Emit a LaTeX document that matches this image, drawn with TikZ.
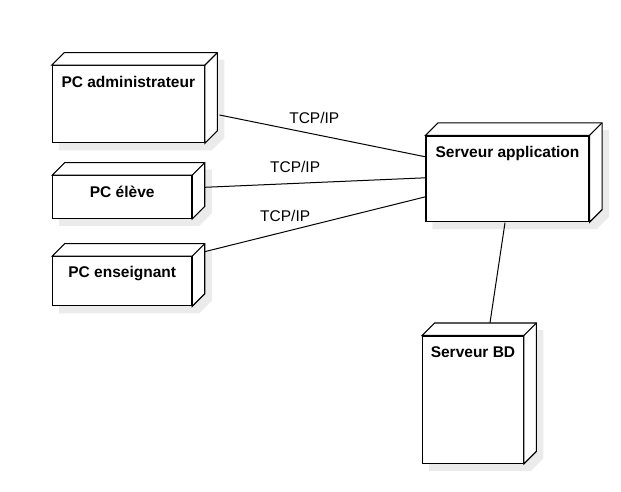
\documentclass[tikz,border=0pt]{standalone}
\usepackage{fontspec}
\setmainfont{Liberation Sans}
\usetikzlibrary{backgrounds}

\tikzset{
  box3d/.style={draw, line width=1.1pt, fill=white, rectangle, inner sep=0pt},
  face3d/.style={draw, line width=1.1pt, fill=white, line join=miter},
  shade3d/.style={fill=black!8, draw=none},
  boxtxt/.style={font=\fontsize{15.5}{18}\selectfont\bfseries, inner sep=0pt},
  lbl/.style={font=\fontsize{15.5}{18}\selectfont, inner sep=0pt},
  link/.style={line width=1pt},
}

\begin{document}
\begin{tikzpicture}[x=1pt, y=-1pt]
\useasboundingbox (0,0) rectangle (621,491);

% depth of the boxes
\def\dd{12.5}
% top and side faces
\def\sides#1{%
  \draw[face3d] (#1.north west) -- ++(\dd,-\dd) -- ([shift={(\dd,-\dd)}]#1.north east)
    -- ([shift={(\dd,-\dd)}]#1.south east) -- (#1.south east) -- (#1.north east) -- cycle;
  \draw[face3d] (#1.north east) -- ++(\dd,-\dd);
}
% shadow
\def\castshadow#1{%
  \begin{pgfonlayer}{background}
  \fill[shade3d] ([shift={(7,7)}]#1.south west) -- ([shift={(7,7)}]#1.north west)
    -- ([shift={(7+\dd,7-\dd)}]#1.north west) -- ([shift={(7+\dd,7-\dd)}]#1.north east)
    -- ([shift={(7+\dd,7-\dd)}]#1.south east) -- ([shift={(7,7)}]#1.south east) -- cycle;
  \end{pgfonlayer}
}

% Clients
\node[box3d, minimum width=152pt, minimum height=77pt] (adm) at (128.3,104.2) {};
\node[box3d, minimum width=139pt, minimum height=42.6pt] (ele) at (122.2,197) {};
\node[box3d, minimum width=139pt, minimum height=49pt] (ens) at (122.2,281.2) {};
% Servers
\node[box3d, minimum width=163pt, minimum height=85.7pt] (srv) at (507.5,178.8) {};
\node[box3d, minimum width=100.6pt, minimum height=127.3pt] (bd) at (473,399.7) {};

\sides{adm} \sides{ele} \sides{ens} \sides{srv} \sides{bd}
\castshadow{adm} \castshadow{ele} \castshadow{ens} \castshadow{srv} \castshadow{bd}

\node[boxtxt, anchor=base] (adm-t) at ([shift={(0,22.3)}]adm.north) {PC administrateur};
\node[boxtxt, anchor=base] (ele-t) at ([shift={(0,0.7)}]ele.center) {PC élève};
\node[boxtxt, anchor=base] (ens-t) at ([shift={(0,-3.9)}]ens.center) {PC enseignant};
\node[boxtxt, anchor=base] (srv-t) at ([shift={(0,22.3)}]srv.north) {Serveur application};
\node[boxtxt, anchor=base] (bd-t) at ([shift={(0,22.3)}]bd.north) {Serveur BD};

\draw[link] ([shift={(14.7,10.8)}]adm.east) -- node[lbl, pos=0.46, yshift=16pt] (l1) {TCP/IP} ([shift={(0,-22)}]srv.west);
\draw[link] ([shift={(12.3,-9.7)}]ele.east) -- node[lbl, pos=0.41, yshift=16pt] (l2) {TCP/IP} ([shift={(0,-1)}]srv.west);
\draw[link] ([shift={(12.3,-29.5)}]ens.east) -- node[lbl, pos=0.365, yshift=16pt] (l3) {TCP/IP} ([shift={(0,18)}]srv.west);
\draw[link] ([shift={(-2.5,0.5)}]srv.south) -- ([shift={(17,-12.7)}]bd.north);

\end{tikzpicture}
\end{document}
